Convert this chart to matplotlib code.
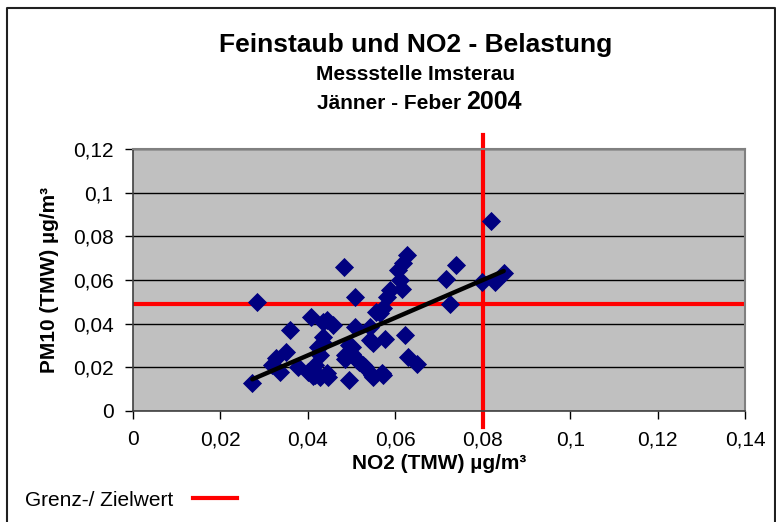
import numpy as np
import matplotlib.pyplot as plt
from matplotlib.lines import Line2D
from matplotlib.ticker import FuncFormatter

plt.rcParams['font.family'] = ['Liberation Sans', 'DejaVu Sans']

# NO2 (TMW) und PM10 (TMW), Jänner - Feber 2004
no2 = [0.0273, 0.0283, 0.0317, 0.0327, 0.0336, 0.0350, 0.0359, 0.0377, 0.0400, 0.0407,
       0.0411, 0.0416, 0.0416, 0.0424, 0.0428, 0.0428, 0.0435, 0.0435, 0.0435, 0.0443,
       0.0443, 0.0446, 0.0457, 0.0483, 0.0485, 0.0485, 0.0493, 0.0493, 0.0500, 0.0500,
       0.0507, 0.0508, 0.0512, 0.0516, 0.0527, 0.0530, 0.0542, 0.0542, 0.0546, 0.0550,
       0.0550, 0.0557, 0.0565, 0.0569, 0.0573, 0.0573, 0.0577, 0.0580, 0.0588, 0.0607,
       0.0611, 0.0615, 0.0618, 0.0622, 0.0626, 0.0630, 0.0649, 0.0716, 0.0725, 0.0739,
       0.0798, 0.0818, 0.0829, 0.0848]
pm10 = [0.0126, 0.0500, 0.0210, 0.0242, 0.0179, 0.0271, 0.0370, 0.0200, 0.0179, 0.0429,
        0.0159, 0.0210, 0.0164, 0.0294, 0.0256, 0.0156, 0.0340, 0.0310, 0.0408, 0.0416,
        0.0172, 0.0156, 0.0393, 0.0660, 0.0256, 0.0240, 0.0144, 0.0301, 0.0263, 0.0294,
        0.0523, 0.0386, 0.0233, 0.0225, 0.0210, 0.0202, 0.0386, 0.0325, 0.0164, 0.0310,
        0.0156, 0.0454, 0.0447, 0.0172, 0.0470, 0.0164, 0.0332, 0.0523, 0.0554, 0.0646,
        0.0600, 0.0560, 0.0677, 0.0347, 0.0715, 0.0248, 0.0217, 0.0603, 0.0490, 0.0669,
        0.0592, 0.0868, 0.0592, 0.0630]

grenz_pm10 = 0.049
grenz_no2 = 0.08

x_ticks = [0, 0.02, 0.04, 0.06, 0.08, 0.1, 0.12, 0.14]
y_ticks = [0, 0.02, 0.04, 0.06, 0.08, 0.1, 0.12]

no2 = np.array(no2)
pm10 = np.array(pm10)

fig = plt.figure(figsize=(7.76, 5.22), dpi=100)
ax = fig.add_axes([133/776, 111/522, 612/776, 262/522])
ax.set_facecolor('#C0C0C0')

ax.set_xlim(0, 0.14)
ax.set_ylim(0, 0.12)
ax.set_xticks(x_ticks)
ax.set_yticks(y_ticks)
fmt = FuncFormatter(lambda v, p: ('%g' % round(v, 4)).replace('.', ','))
ax.xaxis.set_major_formatter(fmt)
ax.yaxis.set_major_formatter(fmt)
ax.tick_params(labelsize=15, length=6, width=1, direction='out', pad=8)
ax.grid(axis='y', color='black', lw=1)
ax.set_axisbelow(True)

for s in ['top', 'right']:
    ax.spines[s].set_color('#808080')
    ax.spines[s].set_linewidth(1.5)
for s in ['left', 'bottom']:
    ax.spines[s].set_color('#404040')
    ax.spines[s].set_linewidth(1.2)

# Grenz-/Zielwerte
ax.axhline(grenz_pm10, color='#FF0000', lw=3, zorder=2)
ax.plot([grenz_no2, grenz_no2], [-0.0075, 0.1265], color='#FF0000', lw=3,
        clip_on=False, zorder=2)

ax.scatter(no2, pm10, marker='D', s=95, color='#000080', lw=0, zorder=3)

# linearer Trend
k, d = np.polyfit(no2, pm10, 1)
xt = np.array([no2.min(), no2.max()])
ax.plot(xt, k * xt + d, color='black', lw=3.2, solid_capstyle='round', zorder=4)

ax.set_xlabel('NO2 (TMW) µg/m³', fontsize=15, fontweight='bold', labelpad=3)
ax.set_ylabel('PM10 (TMW) µg/m³', fontsize=15, fontweight='bold', labelpad=10)

fig.text(416/776, 1 - 45/522, 'Feinstaub und NO2 - Belastung', ha='center', va='center',
         fontsize=19, fontweight='bold')
fig.text(416/776, 1 - 75/522, 'Messstelle Imsterau', ha='center', va='center',
         fontsize=15, fontweight='bold')
t1 = fig.text(317/776, 1 - 109/522, 'Jänner - Feber', ha='left', va='baseline',
              fontsize=15, fontweight='bold')
fig.canvas.draw()
bb = t1.get_window_extent()
fig.text((bb.x1 + 5) / 776, 1 - 109/522, '2004', ha='left', va='baseline',
         fontsize=18, fontweight='bold')

# Legende
fig.text(25/776, 1 - 500/522, 'Grenz-/ Zielwert', ha='left', va='center', fontsize=15)
fig.add_artist(Line2D([193/776, 237/776], [1 - 498/522, 1 - 498/522],
                      color='#FF0000', lw=3, transform=fig.transFigure))

# Rahmen
fig.add_artist(Line2D([7/776, 7/776, 775/776, 775/776], [0, 1 - 8/522, 1 - 8/522, 0],
                      color='#202020', lw=1.5, transform=fig.transFigure))

fig.savefig('out.png', dpi=100)
